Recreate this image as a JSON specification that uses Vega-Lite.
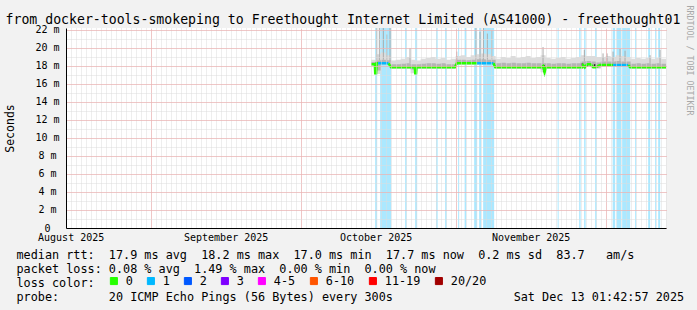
{
  "$schema": "https://vega.github.io/schema/vega-lite/v6.json",
  "width": 600,
  "height": 200,
  "autosize": {"type": "none"},
  "padding": {"left": 66, "top": 28, "right": 31, "bottom": 82},
  "background": "#f2f2f2",
  "config": {
    "view": {"fill": "white", "stroke": null},
    "font": "DejaVu Sans Mono",
    "axis": {"labelFont": "DejaVu Sans Mono", "titleFont": "DejaVu Sans Mono", "labelColor": "black", "titleColor": "black", "titleFontWeight": "normal"}
  },
  "datasets": {
    "loss": [
      {"start": "2025-10-15T21:36:00Z", "end": "2025-10-16T07:12:00Z", "loss": "1"},
      {"start": "2025-10-16T21:36:00Z", "end": "2025-10-19T02:24:00Z", "loss": "1"},
      {"start": "2025-10-21T21:36:00Z", "end": "2025-10-22T04:48:00Z", "loss": "1"},
      {"start": "2025-10-23T21:36:00Z", "end": "2025-10-24T07:12:00Z", "loss": "1"},
      {"start": "2025-10-28T02:24:00Z", "end": "2025-10-28T09:36:00Z", "loss": "1"},
      {"start": "2025-10-29T21:36:00Z", "end": "2025-10-30T04:48:00Z", "loss": "1"},
      {"start": "2025-11-01T12:00:00Z", "end": "2025-11-01T16:48:00Z", "loss": "1"},
      {"start": "2025-11-02T19:12:00Z", "end": "2025-11-03T02:24:00Z", "loss": "1"},
      {"start": "2025-11-04T16:48:00Z", "end": "2025-11-05T07:12:00Z", "loss": "1"},
      {"start": "2025-11-05T16:48:00Z", "end": "2025-11-06T02:24:00Z", "loss": "1"},
      {"start": "2025-11-06T12:00:00Z", "end": "2025-11-08T16:48:00Z", "loss": "1"},
      {"start": "2025-11-21T09:36:00Z", "end": "2025-11-21T14:24:00Z", "loss": "1"},
      {"start": "2025-11-25T16:48:00Z", "end": "2025-11-26T00:00:00Z", "loss": "1"},
      {"start": "2025-11-26T16:48:00Z", "end": "2025-11-27T00:00:00Z", "loss": "1"},
      {"start": "2025-11-28T21:36:00Z", "end": "2025-11-29T04:48:00Z", "loss": "1"},
      {"start": "2025-12-02T09:36:00Z", "end": "2025-12-02T21:36:00Z", "loss": "1"},
      {"start": "2025-12-03T04:48:00Z", "end": "2025-12-04T02:24:00Z", "loss": "1"},
      {"start": "2025-12-04T07:12:00Z", "end": "2025-12-05T21:36:00Z", "loss": "1"},
      {"start": "2025-12-06T21:36:00Z", "end": "2025-12-07T02:24:00Z", "loss": "1"},
      {"start": "2025-12-09T12:00:00Z", "end": "2025-12-09T21:36:00Z", "loss": "1"},
      {"start": "2025-12-10T21:36:00Z", "end": "2025-12-11T02:24:00Z", "loss": "1"},
      {"start": "2025-12-11T12:00:00Z", "end": "2025-12-11T21:36:00Z", "loss": "1"}
    ],
    "smoke": [
      {"t": "2025-10-15T02:00:00Z", "lo": 18.05, "lo2": 18.12, "hi2": 18.45, "hi": 18.7},
      {"t": "2025-10-16T00:00:00Z", "lo": 17.1, "lo2": 17.5, "hi2": 18.6, "hi": 19.3},
      {"t": "2025-10-17T00:00:00Z", "lo": 18.1, "lo2": 18.2, "hi2": 18.7, "hi": 19.5},
      {"t": "2025-10-18T00:00:00Z", "lo": 18.1, "lo2": 18.2, "hi2": 18.65, "hi": 19.2},
      {"t": "2025-10-19T00:00:00Z", "lo": 17.7, "lo2": 17.8, "hi2": 18.2, "hi": 18.6},
      {"t": "2025-10-20T00:00:00Z", "lo": 17.7, "lo2": 17.8, "hi2": 18.2, "hi": 18.7},
      {"t": "2025-10-21T00:00:00Z", "lo": 17.7, "lo2": 17.8, "hi2": 18.25, "hi": 18.8},
      {"t": "2025-10-22T00:00:00Z", "lo": 17.7, "lo2": 17.8, "hi2": 18.3, "hi": 19.0},
      {"t": "2025-10-23T00:00:00Z", "lo": 17.2, "lo2": 17.6, "hi2": 18.2, "hi": 18.7},
      {"t": "2025-10-24T00:00:00Z", "lo": 17.7, "lo2": 17.8, "hi2": 18.2, "hi": 18.6},
      {"t": "2025-10-25T00:00:00Z", "lo": 17.7, "lo2": 17.8, "hi2": 18.25, "hi": 18.8},
      {"t": "2025-10-26T00:00:00Z", "lo": 17.7, "lo2": 17.8, "hi2": 18.3, "hi": 18.9},
      {"t": "2025-10-27T00:00:00Z", "lo": 17.7, "lo2": 17.8, "hi2": 18.3, "hi": 19.0},
      {"t": "2025-10-28T00:00:00Z", "lo": 17.7, "lo2": 17.8, "hi2": 18.25, "hi": 18.8},
      {"t": "2025-10-29T00:00:00Z", "lo": 17.7, "lo2": 17.8, "hi2": 18.3, "hi": 18.9},
      {"t": "2025-10-30T00:00:00Z", "lo": 17.7, "lo2": 17.8, "hi2": 18.2, "hi": 18.7},
      {"t": "2025-10-31T00:00:00Z", "lo": 17.7, "lo2": 17.8, "hi2": 18.2, "hi": 18.8},
      {"t": "2025-11-01T00:00:00Z", "lo": 18.15, "lo2": 18.25, "hi2": 18.7, "hi": 19.1},
      {"t": "2025-11-02T00:00:00Z", "lo": 18.15, "lo2": 18.25, "hi2": 18.7, "hi": 19.2},
      {"t": "2025-11-03T00:00:00Z", "lo": 18.15, "lo2": 18.25, "hi2": 18.65, "hi": 19.0},
      {"t": "2025-11-04T00:00:00Z", "lo": 18.15, "lo2": 18.25, "hi2": 18.7, "hi": 19.2},
      {"t": "2025-11-05T00:00:00Z", "lo": 18.15, "lo2": 18.25, "hi2": 18.75, "hi": 19.3},
      {"t": "2025-11-06T00:00:00Z", "lo": 18.15, "lo2": 18.25, "hi2": 18.75, "hi": 19.4},
      {"t": "2025-11-07T00:00:00Z", "lo": 18.15, "lo2": 18.25, "hi2": 18.7, "hi": 19.3},
      {"t": "2025-11-08T00:00:00Z", "lo": 18.15, "lo2": 18.25, "hi2": 18.7, "hi": 19.1},
      {"t": "2025-11-09T00:00:00Z", "lo": 17.7, "lo2": 17.8, "hi2": 18.3, "hi": 18.8},
      {"t": "2025-11-10T00:00:00Z", "lo": 17.7, "lo2": 17.8, "hi2": 18.35, "hi": 19.0},
      {"t": "2025-11-11T00:00:00Z", "lo": 17.7, "lo2": 17.8, "hi2": 18.3, "hi": 18.9},
      {"t": "2025-11-12T00:00:00Z", "lo": 17.7, "lo2": 17.8, "hi2": 18.35, "hi": 19.1},
      {"t": "2025-11-13T00:00:00Z", "lo": 17.7, "lo2": 17.8, "hi2": 18.3, "hi": 18.9},
      {"t": "2025-11-14T00:00:00Z", "lo": 17.7, "lo2": 17.8, "hi2": 18.3, "hi": 19.0},
      {"t": "2025-11-15T00:00:00Z", "lo": 17.7, "lo2": 17.8, "hi2": 18.35, "hi": 19.1},
      {"t": "2025-11-16T00:00:00Z", "lo": 17.7, "lo2": 17.8, "hi2": 18.3, "hi": 18.9},
      {"t": "2025-11-17T00:00:00Z", "lo": 17.7, "lo2": 17.8, "hi2": 18.3, "hi": 19.0},
      {"t": "2025-11-18T00:00:00Z", "lo": 17.3, "lo2": 17.6, "hi2": 18.3, "hi": 19.2},
      {"t": "2025-11-19T00:00:00Z", "lo": 17.7, "lo2": 17.8, "hi2": 18.3, "hi": 18.9},
      {"t": "2025-11-20T00:00:00Z", "lo": 17.7, "lo2": 17.8, "hi2": 18.25, "hi": 18.8},
      {"t": "2025-11-21T00:00:00Z", "lo": 17.7, "lo2": 17.8, "hi2": 18.3, "hi": 18.9},
      {"t": "2025-11-22T00:00:00Z", "lo": 17.7, "lo2": 17.8, "hi2": 18.3, "hi": 19.0},
      {"t": "2025-11-23T00:00:00Z", "lo": 17.7, "lo2": 17.8, "hi2": 18.25, "hi": 18.8},
      {"t": "2025-11-24T00:00:00Z", "lo": 17.7, "lo2": 17.8, "hi2": 18.3, "hi": 18.9},
      {"t": "2025-11-25T00:00:00Z", "lo": 17.7, "lo2": 17.8, "hi2": 18.3, "hi": 19.0},
      {"t": "2025-11-26T00:00:00Z", "lo": 17.7, "lo2": 17.8, "hi2": 18.5, "hi": 19.2},
      {"t": "2025-11-27T00:00:00Z", "lo": 17.9, "lo2": 18.0, "hi2": 18.55, "hi": 19.1},
      {"t": "2025-11-28T00:00:00Z", "lo": 17.8, "lo2": 17.9, "hi2": 18.5, "hi": 19.1},
      {"t": "2025-11-29T00:00:00Z", "lo": 17.7, "lo2": 17.8, "hi2": 18.4, "hi": 19.0},
      {"t": "2025-11-30T00:00:00Z", "lo": 17.95, "lo2": 18.0, "hi2": 18.5, "hi": 19.0},
      {"t": "2025-12-01T00:00:00Z", "lo": 17.95, "lo2": 18.0, "hi2": 18.5, "hi": 19.1},
      {"t": "2025-12-02T00:00:00Z", "lo": 17.95, "lo2": 18.0, "hi2": 18.5, "hi": 19.0},
      {"t": "2025-12-03T00:00:00Z", "lo": 17.95, "lo2": 18.0, "hi2": 18.55, "hi": 19.2},
      {"t": "2025-12-04T00:00:00Z", "lo": 17.95, "lo2": 18.0, "hi2": 18.5, "hi": 19.1},
      {"t": "2025-12-05T00:00:00Z", "lo": 17.95, "lo2": 18.0, "hi2": 18.5, "hi": 19.0},
      {"t": "2025-12-06T00:00:00Z", "lo": 17.7, "lo2": 17.8, "hi2": 18.25, "hi": 18.8},
      {"t": "2025-12-07T00:00:00Z", "lo": 17.7, "lo2": 17.8, "hi2": 18.3, "hi": 18.9},
      {"t": "2025-12-08T00:00:00Z", "lo": 17.7, "lo2": 17.8, "hi2": 18.25, "hi": 18.8},
      {"t": "2025-12-09T00:00:00Z", "lo": 17.7, "lo2": 17.8, "hi2": 18.3, "hi": 18.9},
      {"t": "2025-12-10T00:00:00Z", "lo": 17.7, "lo2": 17.8, "hi2": 18.25, "hi": 18.8},
      {"t": "2025-12-11T00:00:00Z", "lo": 17.7, "lo2": 17.8, "hi2": 18.3, "hi": 18.9},
      {"t": "2025-12-12T00:00:00Z", "lo": 17.7, "lo2": 17.8, "hi2": 18.25, "hi": 18.8},
      {"t": "2025-12-13T01:42:00Z", "lo": 17.7, "lo2": 17.8, "hi2": 18.25, "hi": 18.8}
    ],
    "spikes": [
      {"t": "2025-10-16T05:17:00Z", "lo": 18.6, "hi": 22.22},
      {"t": "2025-10-16T17:45:00Z", "lo": 18.6, "hi": 22.22},
      {"t": "2025-10-17T13:00:00Z", "lo": 18.7, "hi": 22.22},
      {"t": "2025-10-18T05:17:00Z", "lo": 18.6, "hi": 21.5},
      {"t": "2025-10-18T21:00:00Z", "lo": 18.5, "hi": 22.22},
      {"t": "2025-10-22T21:00:00Z", "lo": 18.3, "hi": 20.0},
      {"t": "2025-11-01T05:17:00Z", "lo": 18.3, "hi": 19.6},
      {"t": "2025-11-05T02:00:00Z", "lo": 18.7, "hi": 22.22},
      {"t": "2025-11-05T21:00:00Z", "lo": 18.7, "hi": 21.8},
      {"t": "2025-11-06T13:00:00Z", "lo": 18.7, "hi": 22.22},
      {"t": "2025-11-07T08:00:00Z", "lo": 18.7, "hi": 21.6},
      {"t": "2025-11-08T05:17:00Z", "lo": 18.7, "hi": 22.0},
      {"t": "2025-11-18T11:31:00Z", "lo": 18.3, "hi": 20.1},
      {"t": "2025-11-26T17:45:00Z", "lo": 18.5, "hi": 19.8},
      {"t": "2025-11-30T11:31:00Z", "lo": 18.5, "hi": 19.4},
      {"t": "2025-12-01T06:43:00Z", "lo": 18.5, "hi": 19.4},
      {"t": "2025-12-02T11:31:00Z", "lo": 18.5, "hi": 19.6},
      {"t": "2025-12-03T21:07:00Z", "lo": 18.5, "hi": 19.9},
      {"t": "2025-12-04T21:07:00Z", "lo": 18.5, "hi": 19.7},
      {"t": "2025-12-09T21:07:00Z", "lo": 18.3, "hi": 19.2},
      {"t": "2025-12-11T21:07:00Z", "lo": 18.3, "hi": 19.8}
    ],
    "dark": [
      {"t": "2025-10-15T22:00:00Z", "lo": 17.1, "hi": 18.2},
      {"t": "2025-10-23T22:30:00Z", "lo": 17.2, "hi": 17.85},
      {"t": "2025-11-18T16:00:00Z", "lo": 17.3, "hi": 18.1},
      {"t": "2025-11-26T06:00:00Z", "lo": 17.85, "hi": 18.3},
      {"t": "2025-11-27T06:00:00Z", "lo": 17.9, "hi": 18.2},
      {"t": "2025-11-28T19:00:00Z", "lo": 17.85, "hi": 18.2}
    ],
    "median": [
      {"t": "2025-10-15T02:00:00Z", "ms": 18.2, "seg": 1, "loss": "0"},
      {"t": "2025-10-15T20:00:00Z", "ms": 18.2, "seg": 1, "loss": "0"},
      {"t": "2025-10-15T22:00:00Z", "ms": 17.2, "seg": 1, "loss": "0"},
      {"t": "2025-10-16T02:00:00Z", "ms": 17.2, "seg": 1, "loss": "0"},
      {"t": "2025-10-16T05:00:00Z", "ms": 18.3, "seg": 1, "loss": "0"},
      {"t": "2025-10-16T12:00:00Z", "ms": 18.3, "seg": 1, "loss": "0"},
      {"t": "2025-10-16T12:00:00Z", "ms": 18.3, "seg": 2, "loss": "1"},
      {"t": "2025-10-18T14:00:00Z", "ms": 18.3, "seg": 2, "loss": "1"},
      {"t": "2025-10-18T14:00:00Z", "ms": 18.3, "seg": 3, "loss": "0"},
      {"t": "2025-10-19T02:00:00Z", "ms": 17.85, "seg": 3, "loss": "0"},
      {"t": "2025-10-23T20:00:00Z", "ms": 17.85, "seg": 3, "loss": "0"},
      {"t": "2025-10-23T22:00:00Z", "ms": 17.2, "seg": 3, "loss": "0"},
      {"t": "2025-10-24T02:00:00Z", "ms": 17.2, "seg": 3, "loss": "0"},
      {"t": "2025-10-24T04:00:00Z", "ms": 17.85, "seg": 3, "loss": "0"},
      {"t": "2025-10-31T20:00:00Z", "ms": 17.85, "seg": 3, "loss": "0"},
      {"t": "2025-11-01T06:00:00Z", "ms": 18.3, "seg": 3, "loss": "0"},
      {"t": "2025-11-05T07:00:00Z", "ms": 18.3, "seg": 3, "loss": "0"},
      {"t": "2025-11-05T07:00:00Z", "ms": 18.3, "seg": 4, "loss": "1"},
      {"t": "2025-11-08T14:00:00Z", "ms": 18.3, "seg": 4, "loss": "1"},
      {"t": "2025-11-08T14:00:00Z", "ms": 18.3, "seg": 5, "loss": "0"},
      {"t": "2025-11-08T22:00:00Z", "ms": 17.85, "seg": 5, "loss": "0"},
      {"t": "2025-11-18T02:00:00Z", "ms": 17.85, "seg": 5, "loss": "0"},
      {"t": "2025-11-18T12:00:00Z", "ms": 18.0, "seg": 5, "loss": "0"},
      {"t": "2025-11-18T19:00:00Z", "ms": 17.3, "seg": 5, "loss": "0"},
      {"t": "2025-11-19T02:00:00Z", "ms": 17.85, "seg": 5, "loss": "0"},
      {"t": "2025-11-26T07:00:00Z", "ms": 17.85, "seg": 5, "loss": "0"},
      {"t": "2025-11-26T12:00:00Z", "ms": 18.1, "seg": 5, "loss": "0"},
      {"t": "2025-11-26T20:00:00Z", "ms": 17.85, "seg": 5, "loss": "0"},
      {"t": "2025-11-27T07:00:00Z", "ms": 18.2, "seg": 5, "loss": "0"},
      {"t": "2025-11-28T00:00:00Z", "ms": 18.2, "seg": 5, "loss": "0"},
      {"t": "2025-11-28T12:00:00Z", "ms": 17.85, "seg": 5, "loss": "0"},
      {"t": "2025-11-29T00:00:00Z", "ms": 17.85, "seg": 5, "loss": "0"},
      {"t": "2025-11-29T12:00:00Z", "ms": 18.0, "seg": 5, "loss": "0"},
      {"t": "2025-11-29T22:00:00Z", "ms": 18.1, "seg": 5, "loss": "0"},
      {"t": "2025-12-02T12:00:00Z", "ms": 18.1, "seg": 5, "loss": "0"},
      {"t": "2025-12-02T12:00:00Z", "ms": 18.1, "seg": 6, "loss": "1"},
      {"t": "2025-12-05T12:00:00Z", "ms": 18.1, "seg": 6, "loss": "1"},
      {"t": "2025-12-05T12:00:00Z", "ms": 18.1, "seg": 7, "loss": "0"},
      {"t": "2025-12-05T22:00:00Z", "ms": 17.85, "seg": 7, "loss": "0"},
      {"t": "2025-12-13T01:42:00Z", "ms": 17.85, "seg": 7, "loss": "0"}
    ]
  },
  "resolve": {"axis": {"x": "independent", "y": "independent"}},
  "layer": [
    {
      "data": {"name": "loss"},
      "mark": {"type": "rect", "fillOpacity": 0.33},
      "encoding": {
        "x": {"field": "start", "type": "temporal", "scale": {"type": "utc", "domain": [{"year": 2025, "month": 8, "date": 15, "hours": 1, "minutes": 42, "seconds": 57, "utc": true}, {"year": 2025, "month": 12, "date": 13, "hours": 1, "minutes": 42, "seconds": 57, "utc": true}]}, "axis": null},
        "x2": {"field": "end"},
        "y": {"datum": 0, "type": "quantitative", "scale": {"domain": [0, 22.22], "nice": false, "zero": false}, "axis": null},
        "y2": {"datum": 22.22},
        "fill": {
          "field": "loss", "type": "nominal",
          "scale": {"domain": ["0", "1", "2", "3", "4-5", "6-10", "11-19", "20/20"], "range": ["#26ff00", "#00b8ff", "#0059ff", "#7e00ff", "#ff00ff", "#ff5500", "#ff0000", "#a10000"]},
          "legend": {
            "orient": "none", "legendX": 42, "legendY": 247, "direction": "horizontal", "columns": 8, "padding": 0,
            "title": null,
            "symbolType": "square", "symbolSize": 50, "symbolStrokeColor": "black", "symbolStrokeWidth": 1, "symbolOpacity": 1,
            "labelFont": "DejaVu Sans Mono", "labelFontSize": 11.8, "labelColor": "black", "labelOffset": 6, "columnPadding": 12
          }
        }
      }
    },
    {
      "data": {"name": "smoke"},
      "mark": {"type": "area", "color": "#dcdcdc", "interpolate": "step-after"},
      "encoding": {
        "x": {
          "field": "t", "type": "temporal",
          "axis": {
            "orient": "bottom",
            "tickCount": {"interval": "day", "step": 1},
            "labelExpr": "utcdate(datum.value) == 16 ? utcFormat(datum.value, '%B %Y') : ''",
            "labelOverlap": false, "labelBound": false, "labelFlush": false,
            "labelFontSize": 10, "labelPadding": 4, "labelAlign": "center",
            "ticks": false, "domain": true, "domainColor": "black", "domainWidth": 1,
            "grid": true, "gridColor": "#dcdcdc", "gridDash": [1, 1], "gridWidth": 1,
            "zindex": 1,
            "title": ["median rtt:\u00a0\u00a017.9 ms avg\u00a0\u00a018.2 ms max\u00a0\u00a017.0 ms min\u00a0\u00a017.7 ms now\u00a0\u00a00.2 ms sd\u00a0\u00a083.7\u00a0\u00a0\u00a0am/s", "packet loss: 0.08 % avg\u00a0\u00a01.49 % max\u00a0\u00a00.00 % min\u00a0\u00a00.00 % now", "loss color:", "probe:\u00a0\u00a0\u00a0\u00a0\u00a0\u00a0\u00a020 ICMP Echo Pings (56 Bytes) every 300s\u00a0\u00a0\u00a0\u00a0\u00a0\u00a0\u00a0\u00a0\u00a0\u00a0\u00a0\u00a0\u00a0\u00a0\u00a0\u00a0\u00a0Sat Dec 13 01:42:57 2025"],
            "titleFontSize": 11.8, "titleX": -50, "titleY": 30, "titleAlign": "left", "titleAnchor": "start", "titleBaseline": "alphabetic", "titleLineHeight": 14, "titlePadding": 0
          }
        },
        "y": {
          "field": "hi", "type": "quantitative",
          "axis": {
            "orient": "left",
            "values": [0, 1, 2, 3, 4, 5, 6, 7, 8, 9, 10, 11, 12, 13, 14, 15, 16, 17, 18, 19, 20, 21, 22],
            "labelExpr": "datum.value % 2 == 1 ? '' : (datum.value == 0 ? '0' : datum.value + ' m')",
            "labelFontSize": 10, "labelAlign": "center", "labelBaseline": "middle", "labelPadding": 19,
            "labelOverlap": false, "labelBound": false, "labelFlush": false,
            "ticks": false, "domain": true, "domainColor": "black", "domainWidth": 1,
            "grid": true, "gridColor": "#dcdcdc", "gridDash": [1, 1], "gridWidth": 1,
            "zindex": 1,
            "title": "Seconds", "titleFontSize": 11.5, "titleX": -56, "titleY": 100, "titleAngle": -90, "titleAlign": "center", "titleBaseline": "middle"
          }
        },
        "y2": {"field": "lo"}
      }
    },
    {
      "data": {"name": "smoke"},
      "mark": {"type": "area", "color": "#b4b4b4", "interpolate": "step-after"},
      "encoding": {
        "x": {"field": "t", "type": "temporal", "axis": null},
        "y": {"field": "hi2", "type": "quantitative", "axis": null},
        "y2": {"field": "lo2"}
      }
    },
    {
      "data": {"name": "spikes"},
      "mark": {"type": "rule", "color": "#aaaaaa", "strokeWidth": 1},
      "encoding": {
        "x": {"field": "t", "type": "temporal", "axis": {
          "orient": "top", "domain": false, "ticks": false, "labels": false,
          "values": [{"year": 2025, "month": 9, "date": 1, "utc": true}, {"year": 2025, "month": 10, "date": 1, "utc": true}, {"year": 2025, "month": 11, "date": 1, "utc": true}, {"year": 2025, "month": 12, "date": 1, "utc": true}],
          "grid": true, "gridColor": "#f0a0a0", "gridDash": [1, 1], "gridWidth": 1, "zindex": 1,
          "title": "from docker-tools-smokeping to Freethought Internet Limited (AS41000) - freethought01", "titleFontSize": 13.2, "titleX": -61, "titleY": -4.5, "titleAlign": "left", "titleAnchor": "start", "titleBaseline": "alphabetic", "titleColor": "black"}},
        "y": {"field": "lo", "type": "quantitative", "axis": {
          "orient": "right", "domain": false, "ticks": false, "labels": false,
          "values": [0, 2, 4, 6, 8, 10, 12, 14, 16, 18, 20, 22],
          "grid": true, "gridColor": "#f0a0a0", "gridDash": [1, 1], "gridWidth": 1, "zindex": 1,
          "title": "RRDTOOL / TOBI OETIKER", "titleFontSize": 8.3, "titleColor": "#a8a8a8", "titleAngle": 90, "titleX": 22, "titleY": 32, "titleAlign": "center", "titleBaseline": "middle"}},
        "y2": {"field": "hi"}
      }
    },
    {
      "data": {"name": "dark"},
      "mark": {"type": "rule", "color": "#222222", "strokeWidth": 1.5},
      "encoding": {
        "x": {"field": "t", "type": "temporal", "axis": null},
        "y": {"field": "lo", "type": "quantitative", "axis": null},
        "y2": {"field": "hi"}
      }
    },
    {
      "data": {"name": "median"},
      "mark": {"type": "line", "strokeWidth": 2.5},
      "encoding": {
        "x": {"field": "t", "type": "temporal", "axis": null},
        "y": {"field": "ms", "type": "quantitative", "axis": null},
        "detail": {"field": "seg", "type": "nominal"},
        "stroke": {"field": "loss", "type": "nominal", "scale": {"domain": ["0", "1", "2", "3", "4-5", "6-10", "11-19", "20/20"], "range": ["#26ff00", "#00b8ff", "#0059ff", "#7e00ff", "#ff00ff", "#ff5500", "#ff0000", "#a10000"]}, "legend": null}
      }
    },
    {
      "mark": {"type": "point", "shape": "triangle-up", "filled": true, "size": 30, "color": "#8b0000", "opacity": 1, "yOffset": -4},
      "encoding": {
        "x": {"datum": {"year": 2025, "month": 8, "date": 15, "hours": 1, "minutes": 42, "seconds": 57, "utc": true}, "type": "temporal", "axis": null},
        "y": {"datum": 22.22, "type": "quantitative", "axis": null}
      }
    },
    {
      "mark": {"type": "point", "shape": "triangle-right", "filled": true, "size": 30, "color": "#8b0000", "opacity": 1, "xOffset": 5},
      "encoding": {
        "x": {"datum": {"year": 2025, "month": 12, "date": 13, "hours": 1, "minutes": 42, "seconds": 57, "utc": true}, "type": "temporal", "axis": null},
        "y": {"datum": 0, "type": "quantitative", "axis": null}
      }
    }
  ]
}
